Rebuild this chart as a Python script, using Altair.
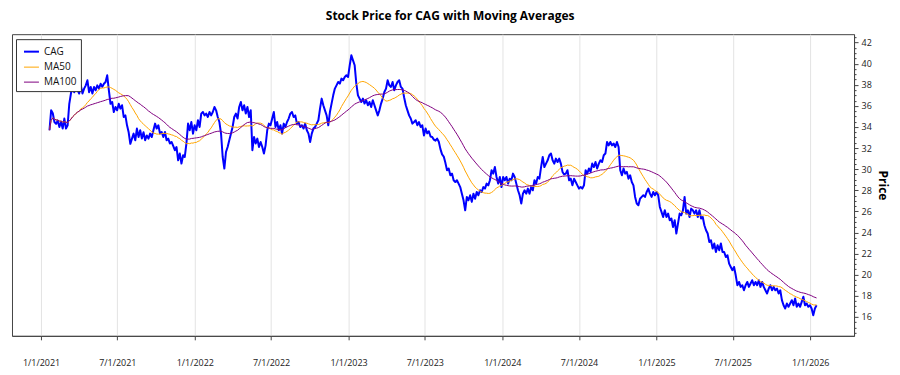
import altair as alt
import pandas as pd

FONT = "Open Sans"

title_text = "Stock Price for CAG with Moving Averages"
y_title = "Price"
series_names = ["CAG", "MA50", "MA100"]
series_colors = ["#0000FF", "#FFA500", "#800080"]
series_widths = [2, 1, 1]
ma50_points = 19    # ~50 trading days at the sampling step below
ma100_points = 37   # ~100 trading days

start_date = "2021-01-21"
end_date = "2026-01-16"

price_part1 = [33.69, 35.58, 35.3, 34.47, 34.3, 34.6, 34.0, 34.5, 33.85, 34.8,
               33.85, 34.16, 36.2, 37.17, 37.95, 37.3, 38.1, 37.5, 37.17, 37.95,
               37.17, 37.64, 37.95, 38.43, 37.3, 37.8, 37.17, 37.8, 37.48, 37.95,
               37.64, 38.1, 37.8, 38.1, 38.27, 38.9, 37.48, 36.2, 36.37, 35.42,
               35.9, 35.58, 36.2, 35.74, 36.06, 34.95, 35.1, 34.16, 33.5, 32.4,
               32.9, 33.37, 32.74, 33.85, 33.05, 33.69, 32.9, 33.5, 32.74, 33.2,
               32.9, 33.37, 33.05, 33.69, 34.32, 33.85, 34.16, 33.37, 33.53, 33.05,
               33.53, 32.74, 32.9, 32.43, 32.58]
price_part2 = [32.2, 31.8, 32.1, 30.84, 31.48, 30.53, 31.32, 31.16, 32.43, 34.32,
               33.69, 34.47, 33.37, 34.16, 33.69, 34.64, 34.0, 35.27, 35.42, 35.1,
               35.27, 34.95, 35.42, 35.1, 35.42, 35.9, 35.58, 34.95, 34.47, 33.37,
               31.16, 30.06, 31.63, 32.1, 32.74, 33.37, 34.0, 34.95, 35.27, 34.8,
               35.9, 36.37, 35.58, 36.06, 35.27, 35.9, 34.95, 35.58, 31.8, 33.05,
               32.43, 32.9, 32.1, 32.58, 32.1, 31.48, 32.26, 33.69, 34.32, 34.16,
               34.8, 35.42, 34.0, 34.47, 33.69, 34.16, 33.37, 34.32, 34.0, 34.47,
               34.8, 35.27, 35.42, 34.95, 35.1, 34.32, 34.47, 34.0, 34.16, 33.85,
               34.32, 33.69, 33.37]
price_part3 = [32.58, 33.37, 33.85, 34.0, 34.32, 34.64, 35.74, 36.69, 36.06, 35.58,
               35.1, 34.16, 35.42, 36.22, 37.0, 37.64, 37.95, 38.27, 38.11, 38.59,
               38.43, 38.74, 38.9, 38.74, 39.85, 40.8, 40.32, 39.85, 38.11, 37.0,
               36.69, 36.37, 36.69, 36.22, 36.53, 36.06, 36.37, 35.9, 36.53, 36.06,
               35.58, 35.1, 35.58, 36.22, 36.69, 37.32, 37.64, 38.43, 37.95, 37.8,
               38.27, 37.48, 37.95, 38.27, 38.43, 37.8, 37.64, 36.8, 36.06, 35.58,
               35.1, 34.8, 34.32, 34.47, 34.64, 34.16, 34.47, 34.0, 34.16, 33.2,
               33.85, 33.4, 33.6, 33.1, 33.05, 32.8, 32.7, 32.9, 32.6, 31.9,
               31.4, 31.2]
price_part4 = [30.6, 29.9, 30.06, 29.42, 29.58, 28.95, 28.79, 28.95, 28.63, 28.3,
               27.68, 27.05, 26.1, 27.37, 27.05, 27.53, 26.9, 27.68, 27.2, 27.84,
               27.53, 28.0, 27.84, 28.3, 28.16, 28.63, 28.47, 28.95, 29.9, 29.58,
               30.2, 29.26, 28.63, 29.26, 28.3, 29.26, 28.95, 29.26, 28.63, 29.1,
               28.95, 29.58, 29.26, 28.63, 28.0, 27.53, 26.74, 27.68, 28.0, 27.68,
               28.16, 27.68, 28.3, 28.0, 28.95, 28.63, 29.26, 29.1, 30.2, 31.16,
               30.2, 30.53, 30.84, 31.32, 31.48, 30.84, 30.53, 31.0, 30.68, 31.0,
               30.53, 29.74]
price_part5 = [29.5, 29.58, 29.9, 28.95, 29.1, 28.47, 29.1, 28.79, 28.47, 28.16,
               28.3, 28.16, 28.47, 29.9, 29.58, 30.06, 29.74, 30.53, 30.2, 30.68,
               30.06, 30.53, 30.84, 30.68, 31.32, 31.48, 32.58, 32.26, 32.58, 32.26,
               32.43, 32.1, 32.58, 32.1, 29.9, 29.42, 30.06, 29.58, 29.74, 29.1,
               29.42, 28.79, 28.47, 27.37, 26.74, 26.58, 27.2, 27.37, 27.53, 27.37,
               27.84, 28.16, 27.68, 27.37, 27.84, 27.53, 27.84, 27.53, 26.42, 25.95,
               25.47, 26.1, 25.47, 25.79, 25.16, 25.32, 24.52, 25.16, 23.9, 24.84,
               25.79, 25.63, 26.1, 27.37, 25.79, 26.1, 25.47, 26.26, 26.1, 25.79,
               26.1, 25.47, 26.1, 25.32]
price_part6 = [25.47, 24.68, 24.21, 23.9, 23.1, 23.26, 22.47, 22.95, 22.15, 22.79,
               22.31, 22.95, 22.15, 22.15, 21.68, 21.84, 21.05, 20.73, 20.42, 20.73,
               19.94, 19.0, 19.31, 18.84, 19.0, 18.52, 19.0, 19.31, 18.84, 19.16,
               19.47, 19.0, 19.31, 19.0, 19.47, 18.84, 19.31, 18.84, 18.52, 18.21,
               18.68, 19.0, 18.52, 18.84, 18.52, 18.68, 18.21, 18.52, 17.58, 17.1,
               16.79, 17.26, 16.95, 17.26, 17.58, 17.1, 17.74, 16.95, 17.26, 16.95,
               17.42, 17.9, 17.1, 17.26, 16.95, 17.1, 16.79, 16.16, 16.79, 17.1]

x_tick_dates = [(2021, 1), (2021, 7), (2022, 1), (2022, 7), (2023, 1), (2023, 7),
                (2024, 1), (2024, 7), (2025, 1), (2025, 7), (2026, 1)]
x_domain = [(2020, 10, 24), (2026, 4, 15)]
y_domain = [14.2, 42.8]
y_minor_step = 0.5

prices = price_part1 + price_part2 + price_part3 + price_part4 + price_part5 + price_part6
dates = pd.date_range(start_date, end_date, periods=len(prices))
df = pd.DataFrame({"date": dates.strftime("%Y-%m-%dT%H:%M:%S"), "price": prices})

# major ticks every 2 (labelled), minor ticks every 0.5 inside the domain
y_tick_values = [14.5 + y_minor_step * i for i in range(57)]
y_tick_values = [v for v in y_tick_values if y_domain[0] <= v <= y_domain[1]]

x_values = [alt.DateTime(year=y, month=m, date=1) for (y, m) in x_tick_dates]
x_dom = [alt.DateTime(year=y, month=m, date=d) for (y, m, d) in x_domain]

legend_kw = dict(
    title=None, orient="none", legendX=4, legendY=5, symbolType="stroke",
    direction="vertical", fillColor="white", strokeColor="#333333",
    padding=4, rowPadding=2, symbolSize=225, symbolOffset=3, labelOffset=4,
    labelFontSize=10, labelFont=FONT, labelColor="#111111",
)

chart = (
    alt.Chart(df)
    .transform_window(MA50="mean(price)", frame=[-(ma50_points - 1), 0],
                      sort=[alt.SortField("date")])
    .transform_window(MA100="mean(price)", frame=[-(ma100_points - 1), 0],
                      sort=[alt.SortField("date")])
    .transform_calculate(CAG="datum.price")
    .transform_fold(series_names, as_=["series", "value"])
    .mark_line(strokeJoin="round")
    .encode(
        x=alt.X("date:T", title=None,
                scale=alt.Scale(domain=x_dom, nice=False),
                axis=alt.Axis(values=x_values, format="%-m/%-d/%Y", grid=True,
                              gridColor="#e3e3e3", gridWidth=1, tickSize=4,
                              labelPadding=19, labelOverlap=False, labelFlush=False)),
        y=alt.Y("value:Q", title=y_title,
                scale=alt.Scale(domain=y_domain, nice=False, zero=False),
                axis=alt.Axis(orient="right", values=y_tick_values, grid=False,
                              labelExpr="datum.value % 2 === 0 ? format(datum.value, 'd') : ''",
                              tickSize={"condition": {"test": "datum.value % 2 === 0", "value": 4}, "value": 2},
                              labelPadding=3, labelOverlap=False, labelFlush=False,
                              titleFontSize=12, titleFontWeight="bold", titleColor="#000000",
                              titlePadding=4)),
        color=alt.Color("series:N", scale=alt.Scale(domain=series_names, range=series_colors),
                        legend=alt.Legend(**legend_kw)),
        strokeWidth=alt.StrokeWidth("series:N",
                                    scale=alt.Scale(type="ordinal", domain=series_names, range=series_widths),
                                    legend=alt.Legend(**legend_kw)),
    )
    .properties(
        width=843, height=302,
        padding={"left": 4, "top": 2, "right": 3, "bottom": 0},
        title=alt.TitleParams(title_text, fontSize=12, fontWeight="bold", font=FONT,
                              color="#000000", anchor="middle", frame="bounds", offset=10),
    )
    .configure_view(stroke="#444444", strokeWidth=1)
    .configure_axis(labelFont=FONT, titleFont=FONT, labelFontSize=9, labelColor="#222222",
                    domainColor="#444444", tickColor="#444444")
)

chart.save("out.html", embed_options={"renderer": "svg", "actions": False})
